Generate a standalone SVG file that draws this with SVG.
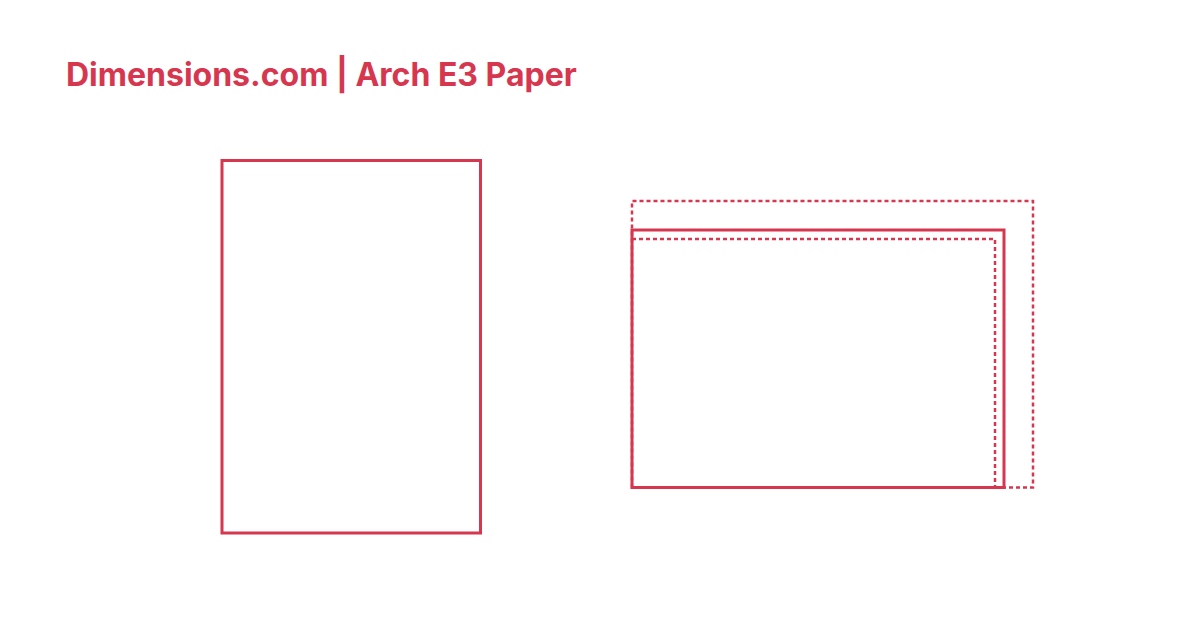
<svg xmlns="http://www.w3.org/2000/svg" width="1200" height="630" viewBox="0 0 1200 630">
<style>
.s{fill:none;stroke:#d6374f;stroke-width:3}
.d{fill:none;stroke:#d6374f;stroke-width:2.5;stroke-dasharray:4 3}
.t{font-family:Inter,"Liberation Sans",sans-serif;font-weight:700;font-size:32px;fill:#d6374f}
</style>
<rect width="1200" height="630" fill="#ffffff"/>
<text class="t" x="66" y="86">Dimensions.com | Arch E3 Paper</text>
<g id="portrait">
<rect class="s" x="222" y="160.5" width="258.5" height="372.5"/>
</g>
<g id="landscape">
<path class="d" d="M632 487.5 V201 H1033 V487.5 H1004"/>
<path class="d" d="M632 239 H995 V487.5"/>
<rect class="s" x="632" y="230" width="372" height="257.5"/>
</g>
<g id="connectors"></g>
</svg>
